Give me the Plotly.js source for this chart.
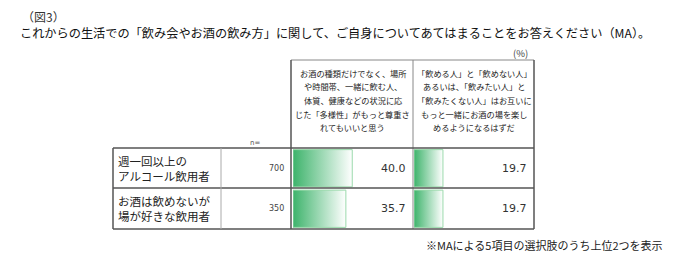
<!DOCTYPE html>
<html>
<head>
<meta charset="utf-8">
<script src="https://cdn.plot.ly/plotly-3.0.1.min.js"></script>
<style>html,body{margin:0;padding:0;background:#fff;}#chart{width:680px;height:260px;}</style>
</head>
<body>
<div id="chart"></div>
<script>
// ---- data ----
var figLabel = "（図3）";
var question = "これからの生活での「飲み会やお酒の飲み方」に関して、ご自身についてあてはまることをお答えください（MA）。";
var unitLabel = "(%)";
var nLabel = "n=";
var groups = ["週一回以上の<br>アルコール飲用者", "お酒は飲めないが<br>場が好きな飲用者"];
var groupN = [700, 350];
var item1Lines = ["お酒の種類だけでなく、場所", "や時間帯、一緒に飲む人、", "体質、健康などの状況に応", "じた「多様性」がもっと尊重さ", "れてもいいと思う"];
var item2Lines = ["「飲める人」と「飲めない人」", "あるいは、「飲みたい人」と", "「飲みたくない人」はお互いに", "もっと一緒にお酒の場を楽し", "めるようになるはずだ"];
var item1Values = [40.0, 35.7];
var item2Values = [19.7, 19.7];
var footnote = "※MAによる5項目の選択肢のうち上位2つを表示";

// ---- layout helpers (pixel -> paper) ----
var W = 680, H = 260;
function px(x){ return x / W; }
function py(y){ return 1 - y / H; }

var colL = [291, 413];
var colR = [413, 534];
var rowTop = 148, rowMid = 188, rowBot = 229;
var tableLeft = 113, nLeft = 221;
var headerTop = 60;
var RANGE_MAX = 81.7;
var halfH = 0.46;

var items = [item1Lines, item2Lines];
var allValues = [item1Values, item2Values];
var jp = "Noto Sans CJK JP, Noto Sans, sans-serif";
var numFont = "DejaVu Sans, Verdana, sans-serif";

var traces = [];
allValues.forEach(function(vals, c){
  vals.forEach(function(v, r){
    traces.push({
      type: 'scatter', mode: 'lines',
      x: [0, v, v, 0, 0],
      y: [r - halfH, r - halfH, r + halfH, r + halfH, r - halfH],
      xaxis: c === 0 ? 'x' : 'x2', yaxis: 'y',
      fill: 'toself',
      fillgradient: {type: 'horizontal', colorscale: [[0, '#3db36b'], [1, '#ffffff']]},
      line: {color: '#9ad9ab', width: 1},
      hoverinfo: 'skip', showlegend: false
    });
  });
});

var axisCommon = {showgrid: false, zeroline: false, showticklabels: false, showline: false, ticks: '', fixedrange: true, range: [0, RANGE_MAX]};
var layout = {
  width: W, height: H,
  margin: {l: 0, r: 0, t: 0, b: 0},
  paper_bgcolor: '#fff', plot_bgcolor: 'rgba(0,0,0,0)',
  showlegend: false,
  xaxis: Object.assign({}, axisCommon, {domain: [px(colL[0] + 2), px(colR[0] + 1)]}),
  xaxis2: Object.assign({}, axisCommon, {domain: [px(colL[1] + 1), px(colR[1])]}),
  yaxis: {showgrid: false, zeroline: false, showticklabels: false, showline: false, ticks: '', fixedrange: true,
          range: [1.5, -0.5], domain: [py(rowBot), py(rowTop)]},
  shapes: [],
  annotations: []
};

function line(x0, y0, x1, y1, color, w){
  layout.shapes.push({type: 'line', xref: 'paper', yref: 'paper', x0: px(x0), y0: py(y0), x1: px(x1), y1: py(y1),
    line: {color: color, width: w}, layer: 'above'});
}
var dark = '#555', mid = '#888', light = '#aaa';
line(colL[0], headerTop, colR[1], headerTop, mid, 1);
line(colL[0], headerTop, colL[0], rowBot, dark, 1.5);
line(colL[1], headerTop, colL[1], rowBot, mid, 1);
line(colR[1], headerTop, colR[1], rowBot, dark, 1.5);
line(tableLeft, rowTop, colR[1], rowTop, dark, 1.5);
line(tableLeft, rowMid, colR[1], rowMid, dark, 1.5);
line(tableLeft, rowBot, colR[1], rowBot, dark, 1.5);
line(tableLeft, rowTop, tableLeft, rowBot, dark, 1.5);
line(nLeft, rowTop, nLeft, rowBot, light, 1);

function ann(text, x, y, opts){
  layout.annotations.push(Object.assign({text: text, xref: 'paper', yref: 'paper', x: px(x), y: py(y),
    showarrow: false, xanchor: 'left', yanchor: 'middle', font: {family: jp, size: 12, color: '#222'}}, opts || {}));
}
ann(figLabel, 20, 16, {font: {family: jp, size: 12, color: '#333'}});
ann(question, 18, 33, {font: {family: jp, size: 12.2, color: '#111'}});
ann(unitLabel, 520, 53, {xanchor: 'center', font: {family: jp, size: 9.5, color: '#444'}});
ann(nLabel, 255, 143, {xanchor: 'center', font: {family: numFont, size: 7, color: '#555'}});
items.forEach(function(linesArr, c){
  linesArr.forEach(function(t, k){
    ann(t, (colL[c] + colR[c]) / 2 + 0.5, 73 + k * 13.5,
        {xanchor: 'center', align: 'center', font: {family: jp, size: 8.2, color: '#222'}});
  });
});
groups.forEach(function(g, r){
  layout.annotations.push({text: g, xref: 'paper', yref: 'y', x: px(116), y: r, showarrow: false,
    xanchor: 'left', yanchor: 'middle', align: 'left', font: {family: jp, size: 11.5, color: '#222'}});
  layout.annotations.push({text: String(groupN[r]), xref: 'paper', yref: 'y', x: px(286), y: r, showarrow: false,
    xanchor: 'right', yanchor: 'middle', font: {family: numFont, size: 8, color: '#444'}});
});
allValues.forEach(function(vals, c){
  vals.forEach(function(v, r){
    layout.annotations.push({text: v.toFixed(1), xref: 'paper', yref: 'y', x: px(colR[c] - 5), y: r, showarrow: false,
      xanchor: 'right', yanchor: 'middle', font: {family: numFont, size: 11, color: '#333'}});
  });
});
ann(footnote, 665, 245, {xanchor: 'right', font: {family: jp, size: 11, color: '#222'}});

Plotly.newPlot('chart', traces, layout, {displayModeBar: false, staticPlot: true});
</script>
</body>
</html>
